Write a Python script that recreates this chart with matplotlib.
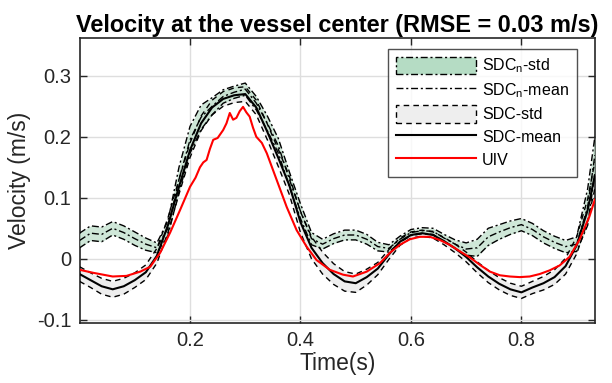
import numpy as np
import matplotlib
matplotlib.use("Agg")
import matplotlib.pyplot as plt
from matplotlib.patches import Patch
from matplotlib.lines import Line2D

plt.rcParams['font.family'] = ['Liberation Sans', 'DejaVu Sans']
plt.rcParams['mathtext.fontset'] = 'custom'
plt.rcParams['mathtext.rm'] = 'Liberation Sans'

# ---- data ----
t = [0.00, 0.02, 0.04, 0.06, 0.08, 0.10, 0.12, 0.14, 0.16, 0.18,
     0.20, 0.22, 0.24, 0.26, 0.28, 0.30, 0.32, 0.34, 0.36, 0.38,
     0.40, 0.42, 0.44, 0.46, 0.48, 0.50, 0.52, 0.54, 0.56, 0.58,
     0.60, 0.62, 0.64, 0.66, 0.68, 0.70, 0.72, 0.74, 0.76, 0.78,
     0.80, 0.82, 0.84, 0.86, 0.88, 0.90, 0.92, 0.933]

sdc_mean = [-0.025, -0.035, -0.045, -0.050, -0.045, -0.035, -0.022, 0.005, 0.055, 0.118,
            0.178, 0.222, 0.248, 0.262, 0.268, 0.270, 0.248, 0.208, 0.165, 0.120,
            0.060, 0.018, -0.007, -0.025, -0.037, -0.040, -0.030, -0.016, 0.007, 0.028,
            0.039, 0.042, 0.039, 0.029, 0.017, 0.003, -0.014, -0.029, -0.041, -0.050,
            -0.055, -0.047, -0.040, -0.030, -0.012, 0.022, 0.080, 0.137]
sdc_std = [0.012, 0.012, 0.013, 0.013, 0.013, 0.012, 0.012, 0.012, 0.012, 0.012,
           0.012, 0.012, 0.012, 0.012, 0.012, 0.012, 0.012, 0.013, 0.014, 0.015,
           0.017, 0.018, 0.018, 0.017, 0.016, 0.015, 0.013, 0.010, 0.008, 0.006,
           0.005, 0.005, 0.005, 0.006, 0.007, 0.008, 0.009, 0.010, 0.010, 0.010,
           0.010, 0.010, 0.011, 0.012, 0.013, 0.014, 0.018, 0.022]

sdcn_mean = [0.030, 0.042, 0.040, 0.050, 0.043, 0.033, 0.024, 0.018, 0.050, 0.130,
             0.195, 0.232, 0.250, 0.266, 0.273, 0.278, 0.255, 0.222, 0.185, 0.130,
             0.078, 0.033, 0.024, 0.033, 0.039, 0.039, 0.032, 0.020, 0.017, 0.032,
             0.043, 0.046, 0.045, 0.034, 0.024, 0.016, 0.018, 0.036, 0.044, 0.051,
             0.056, 0.048, 0.036, 0.027, 0.020, 0.024, 0.085, 0.170]
sdcn_std = [0.012, 0.012, 0.012, 0.011, 0.011, 0.011, 0.010, 0.008, 0.012, 0.020,
            0.022, 0.020, 0.014, 0.011, 0.010, 0.010, 0.011, 0.012, 0.012, 0.012,
            0.012, 0.010, 0.008, 0.008, 0.008, 0.008, 0.008, 0.007, 0.006, 0.005,
            0.005, 0.005, 0.005, 0.006, 0.007, 0.010, 0.014, 0.014, 0.012, 0.011,
            0.010, 0.010, 0.010, 0.010, 0.010, 0.012, 0.030, 0.030]

t_uiv = [0.000, 0.025, 0.060, 0.085, 0.110, 0.128, 0.146, 0.164, 0.182, 0.200,
         0.210, 0.218, 0.224, 0.230, 0.236, 0.242, 0.250, 0.260, 0.266, 0.272,
         0.278, 0.284, 0.290, 0.296, 0.302, 0.308, 0.314, 0.320, 0.330, 0.339,
         0.357, 0.375, 0.393, 0.411, 0.429, 0.453, 0.477, 0.495, 0.520, 0.544,
         0.562, 0.580, 0.598, 0.616, 0.634, 0.652, 0.670, 0.689, 0.707, 0.725,
         0.743, 0.761, 0.779, 0.797, 0.815, 0.833, 0.851, 0.869, 0.887, 0.905,
         0.923, 0.933]
uiv = [-0.018, -0.023, -0.029, -0.028, -0.021, -0.013, 0.010, 0.043, 0.080, 0.118,
       0.133, 0.150, 0.158, 0.162, 0.180, 0.195, 0.198, 0.211, 0.222, 0.239,
       0.228, 0.231, 0.242, 0.249, 0.240, 0.233, 0.215, 0.200, 0.190, 0.173,
       0.129, 0.085, 0.047, 0.020, -0.002, -0.018, -0.026, -0.029, -0.021, -0.007,
       0.010, 0.023, 0.032, 0.036, 0.036, 0.031, 0.023, 0.012, 0.002, -0.010,
       -0.021, -0.027, -0.029, -0.030, -0.029, -0.025, -0.019, -0.011, 0.003, 0.031,
       0.069, 0.097]

xticks = [0.2, 0.4, 0.6, 0.8]
yticks = [-0.1, 0, 0.1, 0.2, 0.3]
ytick_labels = ['-0.1', '0', '0.1', '0.2', '0.3']

# ---- plot ----
green = '#bfe0cb'
gray = '#eeeeee'
ink = '#262626'

fig = plt.figure(figsize=(6.12, 3.83), dpi=100)
ax = fig.add_axes([0.130, 0.157, 0.842, 0.744])

tt = np.array(t)
m1 = np.array(sdc_mean); s1 = np.array(sdc_std)
m2 = np.array(sdcn_mean); s2 = np.array(sdcn_std)

ax.fill_between(tt, m1 - s1, m1 + s1, color=gray, lw=0, zorder=2)
ax.fill_between(tt, m2 - s2, m2 + s2, color=green, alpha=0.75, lw=0, zorder=3)

ax.plot(tt, m1 - s1, color='k', ls=(0, (4, 3)), lw=1.0, zorder=4)
ax.plot(tt, m1 + s1, color='k', ls=(0, (4, 3)), lw=1.0, zorder=4)
ax.plot(tt, m2 - s2, color='k', ls=(0, (5, 2, 1.5, 2)), lw=1.0, zorder=4)
ax.plot(tt, m2 + s2, color='k', ls=(0, (5, 2, 1.5, 2)), lw=1.0, zorder=4)
ax.plot(tt, m2, color='k', ls=(0, (5, 2, 1.5, 2)), lw=1.0, zorder=5)
ax.plot(tt, m1, color='k', ls='-', lw=1.5, zorder=5)
ax.plot(t_uiv, uiv, color='#ff0000', lw=1.5, zorder=6)

ax.set_xlim(0, 0.933)
ax.set_ylim(-0.105, 0.362)
ax.set_xticks(xticks)
ax.set_xticklabels([f'{v:g}' for v in xticks])
ax.set_yticks(yticks)
ax.set_yticklabels(ytick_labels)
ax.grid(True, color='#dedede', lw=1.0, zorder=0)
ax.set_axisbelow(True)
ax.tick_params(direction='in', length=5, width=1, top=True, right=True,
               labelsize=14.5, colors=ink, pad=6)
for sp in ax.spines.values():
    sp.set_color(ink)
    sp.set_linewidth(1.2)

ax.set_xlabel('Time(s)', fontsize=16.5, color=ink, labelpad=1)
ax.set_ylabel('Velocity (m/s)', fontsize=16.5, color=ink, labelpad=4)
ax.set_title('Velocity at the vessel center (RMSE = 0.03 m/s)', fontsize=16.9,
             fontweight='bold', color='k', pad=4)

handles = [
    Patch(facecolor='#b5dcc4', edgecolor='k', ls=(0, (5, 2, 1.5, 2)), lw=1.0),
    Line2D([], [], color='k', ls=(0, (5, 2, 1.5, 2)), lw=1.0),
    Patch(facecolor=gray, edgecolor='k', ls=(0, (4, 3)), lw=1.0),
    Line2D([], [], color='k', lw=1.5),
    Line2D([], [], color='#ff0000', lw=1.5),
]
labels = [r'$\mathregular{SDC_n}$-std', r'$\mathregular{SDC_n}$-mean',
          'SDC-std', 'SDC-mean', 'UIV']
leg = ax.legend(handles, labels, loc='upper right', bbox_to_anchor=(0.965, 0.962),
                fontsize=11.5, frameon=True, fancybox=False, edgecolor=ink,
                handlelength=5.0, handleheight=1.3, labelspacing=0.35,
                handletextpad=0.4, borderpad=0.5, borderaxespad=0)
leg.get_frame().set_linewidth(1.0)
leg.set_zorder(10)

fig.savefig('out.png', dpi=100)
